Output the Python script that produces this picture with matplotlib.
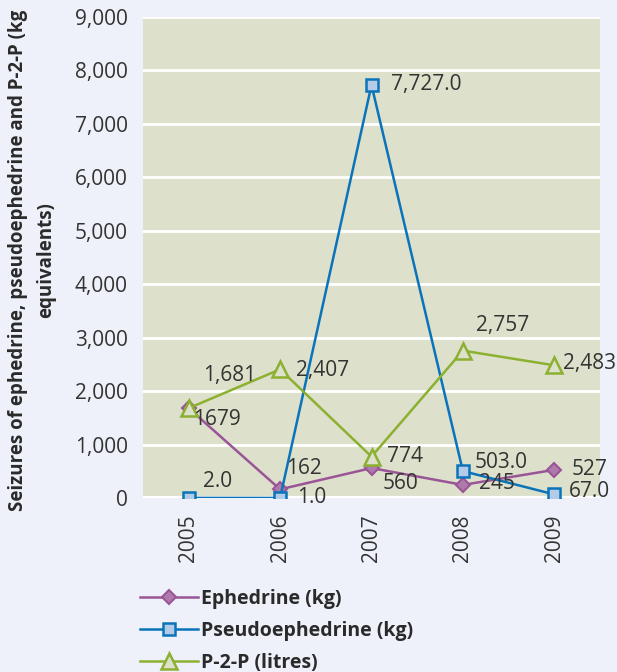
import matplotlib
matplotlib.use("Agg")
import matplotlib.pyplot as plt
from matplotlib.lines import Line2D

years = ["2005", "2006", "2007", "2008", "2009"]
ephedrine = [1679, 162, 560, 245, 527]
pseudo = [2.0, 1.0, 7727.0, 503.0, 67.0]
p2p = [1681, 2407, 774, 2757, 2483]

eph_labels = ["1679", "162", "560", "245", "527"]
pse_labels = ["2.0", "1.0", "7,727.0", "503.0", "67.0"]
p2p_labels = ["1,681", "2,407", "774", "2,757", "2,483"]

yticks = [0, 1000, 2000, 3000, 4000, 5000, 6000, 7000, 8000, 9000]

plt.rcParams['font.family'] = ['Open Sans', 'DejaVu Sans']

fig = plt.figure(figsize=(6.17, 6.72), dpi=100)
fig.patch.set_facecolor('#eef1f9')
ax = fig.add_axes([143/617, 1-498/672, (600-143)/617, (498-17)/672])
ax.set_facecolor('#dde0cb')

x = [i + 0.5 for i in range(len(years))]

c_eph = '#9a5597'
c_pse = '#0a74bb'
c_p2p = '#8cb030'

eph_style = dict(color=c_eph, lw=1.8, marker='D', ms=7.5, mfc='#ad7aab', mec=c_eph, mew=1.5)
pse_style = dict(color=c_pse, lw=1.8, marker='s', ms=8.5, mfc='#b3cbe6', mec=c_pse, mew=1.8)
p2p_style = dict(color=c_p2p, lw=1.8, marker='^', ms=11, mfc='#dde0cb', mec=c_p2p, mew=1.8)

ax.plot(x, ephedrine, zorder=3, **eph_style)
ax.plot(x, pseudo, zorder=4, **pse_style)
ax.plot(x, p2p, zorder=5, **p2p_style)

fs = 15
tc = '#333333'
eph_off = [(4, -11), (6, 21), (11, -15), (16, 1), (17, 0)]
pse_off = [(14, 16), (17, 0), (19, 1), (12, 9), (15, 3)]
p2p_off = [(14, 33), (16, -1), (16, 0), (13, 25), (9, 2)]
for vals, labs, offs in ((ephedrine, eph_labels, eph_off),
                         (pseudo, pse_labels, pse_off),
                         (p2p, p2p_labels, p2p_off)):
    for xi, v, t, o in zip(x, vals, labs, offs):
        ax.annotate(t, (xi, v), xytext=o, textcoords='offset pixels', fontsize=fs,
                    color=tc, va='center', ha='left', zorder=6)

ax.set_xlim(0, 5)
ax.set_ylim(0, 9000)
ax.set_yticks(yticks)
ax.set_yticklabels([f"{v:,}" for v in yticks])
ax.set_xticks(x)
ax.set_xticklabels(years, rotation=90)
ax.tick_params(axis='both', length=0, labelsize=15, labelcolor=tc)
ax.tick_params(axis='y', pad=11)
ax.tick_params(axis='x', pad=12)
ax.yaxis.grid(True, color='white', lw=2)
ax.set_axisbelow(True)
for s in ax.spines.values():
    s.set_visible(False)
ax.axhline(0, color='white', lw=3, zorder=1)

fig.text(32/617, 1 - 260/672, "Seizures of ephedrine, pseudoephedrine and P-2-P (kg\nequivalents)",
         rotation=90, ha='center', va='center', fontsize=13.5, fontweight='bold', color='#2a2a2a',
         multialignment='center', linespacing=1.5)

handles = [Line2D([], [], **eph_style), Line2D([], [], **pse_style), Line2D([], [], **p2p_style)]
leg = fig.legend(handles, ["Ephedrine (kg)", "Pseudoephedrine (kg)", "P-2-P (litres)"],
                 loc='upper left', bbox_to_anchor=(140/617, 1-589/672), frameon=False,
                 prop={'weight': 'bold', 'size': 14}, handlelength=3.0, handletextpad=0.15,
                 labelspacing=0.62, borderaxespad=0, borderpad=0)
for t in leg.get_texts():
    t.set_color('#2a2a2a')

fig.savefig("out.png", dpi=100, facecolor=fig.get_facecolor())
